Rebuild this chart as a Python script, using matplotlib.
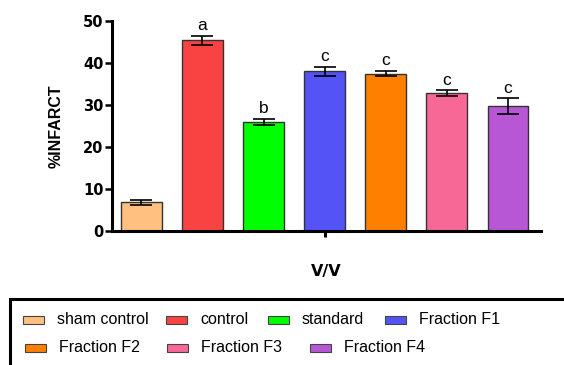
import numpy as np
import matplotlib.pyplot as plt
from matplotlib.patches import Rectangle

# data
groups = ['sham control', 'control', 'standard', 'Fraction F1',
          'Fraction F2', 'Fraction F3', 'Fraction F4']
infarct = [6.8, 45.4, 26.0, 38.0, 37.5, 32.8, 29.7]
sem = [0.5, 1.0, 0.7, 1.15, 0.7, 0.7, 1.85]
letters = ['', 'a', 'b', 'c', 'c', 'c', 'c']
colors = ['#FFC080', '#F94343', '#00FF00', '#5353F6',
          '#FF8000', '#F76896', '#B857D6']

fig = plt.figure(figsize=(5.64, 3.65), dpi=100)
ax = fig.add_axes([112 / 564, 1 - 231 / 365, (541 - 112) / 564, 210 / 365])

x = np.arange(len(groups))
ax.bar(x, infarct, width=0.67, color=colors, edgecolor='#333333', lw=1, zorder=2)
ax.errorbar(x, infarct, yerr=sem, fmt='none', ecolor='black', elinewidth=1.2,
            capsize=8, capthick=1.2, zorder=3)

for xi, v, e, lab in zip(x, infarct, sem, letters):
    if lab:
        ax.annotate(lab, (xi, v + e), xytext=(0, 2), textcoords='offset points',
                    ha='center', va='bottom', fontsize=12.5, family='Liberation Sans')

ax.set_xlim(-0.48, 6.54)
ax.set_ylim(0, 50)
ax.set_yticks([0, 10, 20, 30, 40, 50])
ax.set_xticks([3])
ax.set_xticklabels([''])

for s in ['top', 'right']:
    ax.spines[s].set_visible(False)
for s in ['left', 'bottom']:
    ax.spines[s].set_linewidth(2.2)

ax.tick_params(axis='y', length=5, width=1.8, pad=1, labelsize=10.5)
ax.tick_params(axis='x', length=4, width=2.2)
for t in ax.get_yticklabels():
    t.set_fontweight('bold')
    t.set_family('DejaVu Sans')

ax.set_ylabel('%INFARCT', fontsize=11.5, fontweight='bold', family='Liberation Sans', labelpad=14)
ax.set_xlabel('V/V', fontsize=11.5, fontweight='bold', family='DejaVu Sans', labelpad=16)

# legend box, running off the right and bottom edges
box = Rectangle((10 / 564, -0.05), 1.0, 1 - 299 / 365 + 0.05, transform=fig.transFigure,
                fill=False, ec='black', lw=2.2, clip_on=False)
fig.add_artist(box)

leg_x = [23, 166, 268, 385, 25, 167, 310]
leg_y = [320, 320, 320, 320, 348, 348, 348]
for name, c, lx, ly in zip(groups, colors, leg_x, leg_y):
    fig.add_artist(Rectangle((lx / 564, 1 - (ly + 4) / 365), 21 / 564, 8 / 365,
                             transform=fig.transFigure, fc=c, ec='#444444', lw=0.8))
    fig.text((lx + 34) / 564, 1 - ly / 365, name, fontsize=11.5, family='Liberation Sans',
             va='center', ha='left')

fig.savefig('out.png', dpi=100)
